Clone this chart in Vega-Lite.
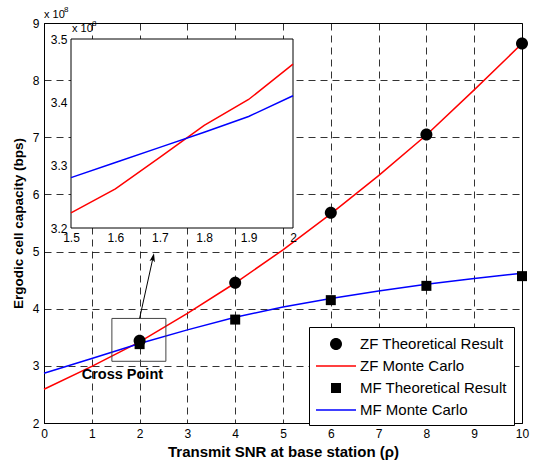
{
  "$schema": "https://vega.github.io/schema/vega-lite/v6.json",
  "width": 478,
  "height": 400,
  "autosize": "none",
  "padding": {"left": 44, "top": 23, "right": 12, "bottom": 40},
  "background": "white",
  "config": {
    "view": {"stroke": "black", "strokeWidth": 1},
    "font": "Liberation Sans",
    "axis": {
      "labelFont": "Liberation Sans",
      "titleFont": "Liberation Sans",
      "labelColor": "black",
      "titleColor": "black",
      "domainColor": "black",
      "tickColor": "black",
      "grid": true,
      "gridColor": "black",
      "gridDash": [7, 5],
      "gridOpacity": 0.8,
      "labelFontSize": 12,
      "titleFontSize": 13.5,
      "titleFontWeight": "bold",
      "labelFlush": false,
      "labelOverlap": false,
      "ticks": false
    }
  },
  "datasets": {
    "main": [
      {"snr": 0, "cap": 2.59, "series": "ZF Monte Carlo"},
      {"snr": 1, "cap": 2.99, "series": "ZF Monte Carlo"},
      {"snr": 2, "cap": 3.42, "series": "ZF Monte Carlo"},
      {"snr": 3, "cap": 3.92, "series": "ZF Monte Carlo"},
      {"snr": 4, "cap": 4.45, "series": "ZF Monte Carlo"},
      {"snr": 5, "cap": 5.03, "series": "ZF Monte Carlo"},
      {"snr": 6, "cap": 5.66, "series": "ZF Monte Carlo"},
      {"snr": 7, "cap": 6.33, "series": "ZF Monte Carlo"},
      {"snr": 8, "cap": 7.04, "series": "ZF Monte Carlo"},
      {"snr": 9, "cap": 7.83, "series": "ZF Monte Carlo"},
      {"snr": 10, "cap": 8.64, "series": "ZF Monte Carlo"},
      {"snr": 0, "cap": 2.87, "series": "MF Monte Carlo"},
      {"snr": 1, "cap": 3.13, "series": "MF Monte Carlo"},
      {"snr": 2, "cap": 3.39, "series": "MF Monte Carlo"},
      {"snr": 3, "cap": 3.63, "series": "MF Monte Carlo"},
      {"snr": 4, "cap": 3.85, "series": "MF Monte Carlo"},
      {"snr": 5, "cap": 4.03, "series": "MF Monte Carlo"},
      {"snr": 6, "cap": 4.18, "series": "MF Monte Carlo"},
      {"snr": 7, "cap": 4.31, "series": "MF Monte Carlo"},
      {"snr": 8, "cap": 4.43, "series": "MF Monte Carlo"},
      {"snr": 9, "cap": 4.53, "series": "MF Monte Carlo"},
      {"snr": 10, "cap": 4.62, "series": "MF Monte Carlo"},
      {"snr": 2, "cap": 3.44, "series": "ZF Theoretical Result"},
      {"snr": 4, "cap": 4.455, "series": "ZF Theoretical Result"},
      {"snr": 6, "cap": 5.68, "series": "ZF Theoretical Result"},
      {"snr": 8, "cap": 7.05, "series": "ZF Theoretical Result"},
      {"snr": 10, "cap": 8.64, "series": "ZF Theoretical Result"},
      {"snr": 2, "cap": 3.38, "series": "MF Theoretical Result"},
      {"snr": 4, "cap": 3.81, "series": "MF Theoretical Result"},
      {"snr": 6, "cap": 4.15, "series": "MF Theoretical Result"},
      {"snr": 8, "cap": 4.40, "series": "MF Theoretical Result"},
      {"snr": 10, "cap": 4.57, "series": "MF Theoretical Result"}
    ],
    "inset": [
      {"snr": 1.5, "cap": 3.224, "series": "ZF Monte Carlo"},
      {"snr": 1.6, "cap": 3.262, "series": "ZF Monte Carlo"},
      {"snr": 1.7, "cap": 3.312, "series": "ZF Monte Carlo"},
      {"snr": 1.8, "cap": 3.363, "series": "ZF Monte Carlo"},
      {"snr": 1.9, "cap": 3.404, "series": "ZF Monte Carlo"},
      {"snr": 2.0, "cap": 3.46, "series": "ZF Monte Carlo"},
      {"snr": 1.5, "cap": 3.28, "series": "MF Monte Carlo"},
      {"snr": 1.6, "cap": 3.304, "series": "MF Monte Carlo"},
      {"snr": 1.7, "cap": 3.328, "series": "MF Monte Carlo"},
      {"snr": 1.8, "cap": 3.352, "series": "MF Monte Carlo"},
      {"snr": 1.9, "cap": 3.377, "series": "MF Monte Carlo"},
      {"snr": 2.0, "cap": 3.41, "series": "MF Monte Carlo"}
    ],
    "crossBox": [{"snr": 1.42, "snr2": 2.55, "cap": 3.08, "cap2": 3.83}],
    "crossText": [{"snr": 1.64, "cap": 2.77, "label": "Cross Point"}],
    "arrow": [{"snr": 2.0, "cap": 3.83, "snr2": 2.285, "cap2": 4.91}],
    "arrowHead": [{"snr": 2.279, "cap": 4.885}],
    "mainExp": [{"snr": 0, "cap": 9, "base": "x 10", "exp": "8"}],
    "insetBox": [{"snr": 1.5, "snr2": 2.0, "cap": 3.2, "cap2": 3.5}],
    "insetExp": [{"snr": 1.5, "cap": 3.5, "base": "x 10", "exp": "8"}]
  },
  "layer": [
    {
      "layer": [
        {
          "data": {"name": "main"},
          "transform": [{"filter": "indexof(datum.series, 'Monte') >= 0"}],
          "mark": {"type": "line", "strokeWidth": 1.5},
          "encoding": {
            "x": {
              "field": "snr", "type": "quantitative",
              "scale": {"domain": [0, 10], "nice": false, "zero": false},
              "axis": {"values": [0,1,2,3,4,5,6,7,8,9,10], "format": "d", "title": "Transmit SNR at base station (ρ)", "titleFontSize": 15, "labelPadding": 5, "titlePadding": 5}
            },
            "y": {
              "field": "cap", "type": "quantitative",
              "scale": {"domain": [2, 9], "nice": false, "zero": false},
              "axis": {"values": [2,3,4,5,6,7,8,9], "format": "d", "title": "Ergodic cell capacity (bps)", "labelPadding": 5, "titlePadding": 7}
            },
            "stroke": {
              "field": "series", "type": "nominal",
              "scale": {"domain": ["ZF Monte Carlo", "MF Monte Carlo"], "range": ["red", "blue"]},
              "legend": null
            }
          }
        },
        {
          "data": {"name": "main"},
          "transform": [{"filter": "indexof(datum.series, 'Theoretical') >= 0"}],
          "mark": {"type": "point", "filled": true, "size": 400, "opacity": 1, "strokeWidth": 0},
          "encoding": {
            "x": {"field": "snr", "type": "quantitative"},
            "y": {"field": "cap", "type": "quantitative"},
            "color": {
              "field": "series", "type": "nominal",
              "scale": {"domain": ["ZF Theoretical Result", "ZF Monte Carlo", "MF Theoretical Result", "MF Monte Carlo"], "range": ["black", "red", "black", "blue"]},
              "legend": {
                "title": null, "orient": "none", "legendX": 265, "legendY": 304,
                "fillColor": "white", "strokeColor": "black", "padding": 7,
                "labelFont": "Liberation Sans", "labelFontSize": 15, "labelColor": "black",
                "symbolSize": 400, "rowPadding": 4, "symbolOffset": 10, "labelOffset": 14, "symbolStrokeWidth": 0
              }
            },
            "shape": {
              "field": "series", "type": "nominal",
              "scale": {"domain": ["ZF Theoretical Result", "ZF Monte Carlo", "MF Theoretical Result", "MF Monte Carlo"],
                        "range": ["M0.6,0A0.6,0.6,0,1,1,-0.6,0A0.6,0.6,0,1,1,0.6,0Z", "M-2,-0.08H2V0.08H-2Z", "M-0.5,-0.5H0.5V0.5H-0.5Z", "M-2,-0.08H2V0.08H-2Z"]}
            }
          }
        },
        {
          "data": {"name": "crossBox"},
          "mark": {"type": "rect", "fill": null, "fillOpacity": 0, "stroke": "#444444", "strokeWidth": 1},
          "encoding": {
            "x": {"field": "snr", "type": "quantitative"},
            "x2": {"field": "snr2"},
            "y": {"field": "cap", "type": "quantitative"},
            "y2": {"field": "cap2"}
          }
        },
        {
          "data": {"name": "crossText"},
          "mark": {"type": "text", "font": "Liberation Sans", "fontSize": 14.5, "fontWeight": "bold", "align": "center", "baseline": "alphabetic", "color": "black"},
          "encoding": {
            "x": {"field": "snr", "type": "quantitative"},
            "y": {"field": "cap", "type": "quantitative"},
            "text": {"field": "label"}
          }
        },
        {
          "data": {"name": "arrow"},
          "mark": {"type": "rule", "color": "black", "strokeWidth": 1},
          "encoding": {
            "x": {"field": "snr", "type": "quantitative"},
            "x2": {"field": "snr2"},
            "y": {"field": "cap", "type": "quantitative"},
            "y2": {"field": "cap2"}
          }
        },
        {
          "data": {"name": "arrowHead"},
          "mark": {"type": "point", "shape": "M0,-1L0.55,0.7L0,0.35L-0.55,0.7Z", "size": 100, "filled": true, "color": "black", "opacity": 1, "angle": 12},
          "encoding": {
            "x": {"field": "snr", "type": "quantitative"},
            "y": {"field": "cap", "type": "quantitative"}
          }
        },
        {
          "data": {"name": "mainExp"},
          "mark": {"type": "text", "font": "Liberation Sans", "fontSize": 11, "align": "left", "baseline": "alphabetic", "dx": 0, "dy": -5, "color": "black"},
          "encoding": {
            "x": {"field": "snr", "type": "quantitative"},
            "y": {"field": "cap", "type": "quantitative"},
            "text": {"field": "base"}
          }
        },
        {
          "data": {"name": "mainExp"},
          "mark": {"type": "text", "font": "Liberation Sans", "fontSize": 8, "align": "left", "baseline": "alphabetic", "dx": 20, "dy": -11, "color": "black"},
          "encoding": {
            "x": {"field": "snr", "type": "quantitative"},
            "y": {"field": "cap", "type": "quantitative"},
            "text": {"field": "exp"}
          }
        }
      ]
    },
    {
      "layer": [
        {
          "data": {"name": "insetBox"},
          "mark": {"type": "rect", "fill": "white", "stroke": "black", "strokeWidth": 1},
          "encoding": {
            "x": {
              "field": "snr", "type": "quantitative",
              "scale": {"domain": [1.5, 2], "range": [27, 249], "nice": false, "zero": false},
              "axis": {"orient": "top", "offset": -205, "values": [1.5, 1.6, 1.7, 1.8, 1.9, 2], "format": ".1~f", "title": null, "domain": false, "labelBaseline": "top", "labelPadding": -4, "zindex": 1}
            },
            "x2": {"field": "snr2"},
            "y": {
              "field": "cap", "type": "quantitative",
              "scale": {"domain": [3.2, 3.5], "range": [205, 16], "nice": false, "zero": false},
              "axis": {"orient": "left", "offset": -27, "values": [3.2, 3.3, 3.4, 3.5], "format": ".1f", "title": null, "domain": false, "labelPadding": 4, "zindex": 1}
            },
            "y2": {"field": "cap2"}
          }
        },
        {
          "data": {"name": "inset"},
          "mark": {"type": "line", "strokeWidth": 1.5},
          "encoding": {
            "x": {"field": "snr", "type": "quantitative"},
            "y": {"field": "cap", "type": "quantitative"},
            "stroke": {"field": "series", "type": "nominal", "legend": null}
          }
        },
        {
          "data": {"name": "insetExp"},
          "mark": {"type": "text", "font": "Liberation Sans", "fontSize": 11, "align": "left", "baseline": "alphabetic", "dx": 1, "dy": -7, "color": "black"},
          "encoding": {
            "x": {"field": "snr", "type": "quantitative"},
            "y": {"field": "cap", "type": "quantitative"},
            "text": {"field": "base"}
          }
        },
        {
          "data": {"name": "insetExp"},
          "mark": {"type": "text", "font": "Liberation Sans", "fontSize": 8, "align": "left", "baseline": "alphabetic", "dx": 21, "dy": -13, "color": "black"},
          "encoding": {
            "x": {"field": "snr", "type": "quantitative"},
            "y": {"field": "cap", "type": "quantitative"},
            "text": {"field": "exp"}
          }
        }
      ]
    }
  ],
  "resolve": {
    "scale": {"x": "independent", "y": "independent"},
    "axis": {"x": "independent", "y": "independent"}
  }
}
